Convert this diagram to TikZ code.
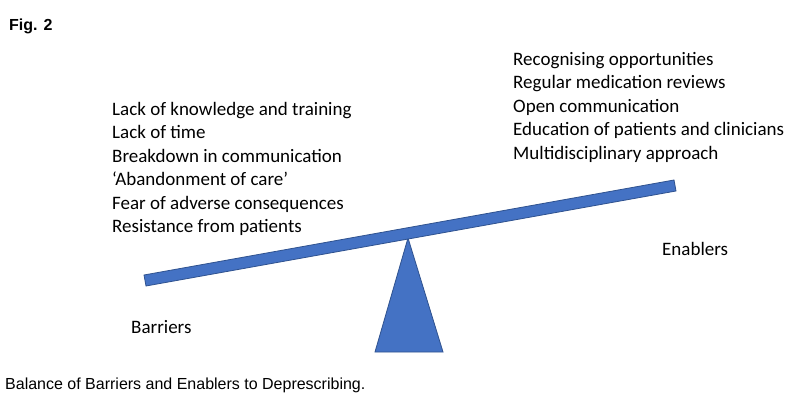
\documentclass[tikz,border=0pt]{standalone}
\usepackage{fontspec}
\setmainfont{Carlito}
\newfontfamily\capfont{Liberation Sans}
\begin{document}
\begin{tikzpicture}[x=1pt,y=-1pt,
  lst/.style={anchor=north west,align=left,inner sep=0,font=\fontsize{19}{23.5}\selectfont},
  lbl/.style={anchor=west,inner sep=0,font=\fontsize{19}{22}\selectfont},
  shp/.style={fill={rgb,255:red,68;green,114;blue,196},draw={rgb,255:red,47;green,82;blue,143},line width=0.8}]
\useasboundingbox (0,0) rectangle (794,403);
\fill[white] (0,0) rectangle (794,403);
\node[anchor=west,inner sep=0,font=\capfont\bfseries\fontsize{16}{18}\selectfont] (fig) at (9,26) {Fig. 2};
\draw[shp] (375,352) -- (408,238) -- (443,352) -- cycle;
\draw[shp] (144,275) -- (674,180) -- (676,191) -- (146,286) -- cycle;
\node[lst] (bar) at (112,102) {Lack of knowledge and training\\Lack of time\\Breakdown in communication\\‘Abandonment of care’\\Fear of adverse consequences\\Resistance from patients};
\node[lst] (en) at (513,52) {Recognising opportunities\\Regular medication reviews\\Open communication\\Education of patients and clinicians\\Multidisciplinary approach};
\node[lbl] (el) at (662,249) {Enablers};
\node[lbl] (bl) at (131,327) {Barriers};
\node[anchor=west,inner sep=0,font=\capfont\fontsize{16}{18}\selectfont] (cap) at (5,385) {Balance of Barriers and Enablers to Deprescribing.};
\end{tikzpicture}
\end{document}
